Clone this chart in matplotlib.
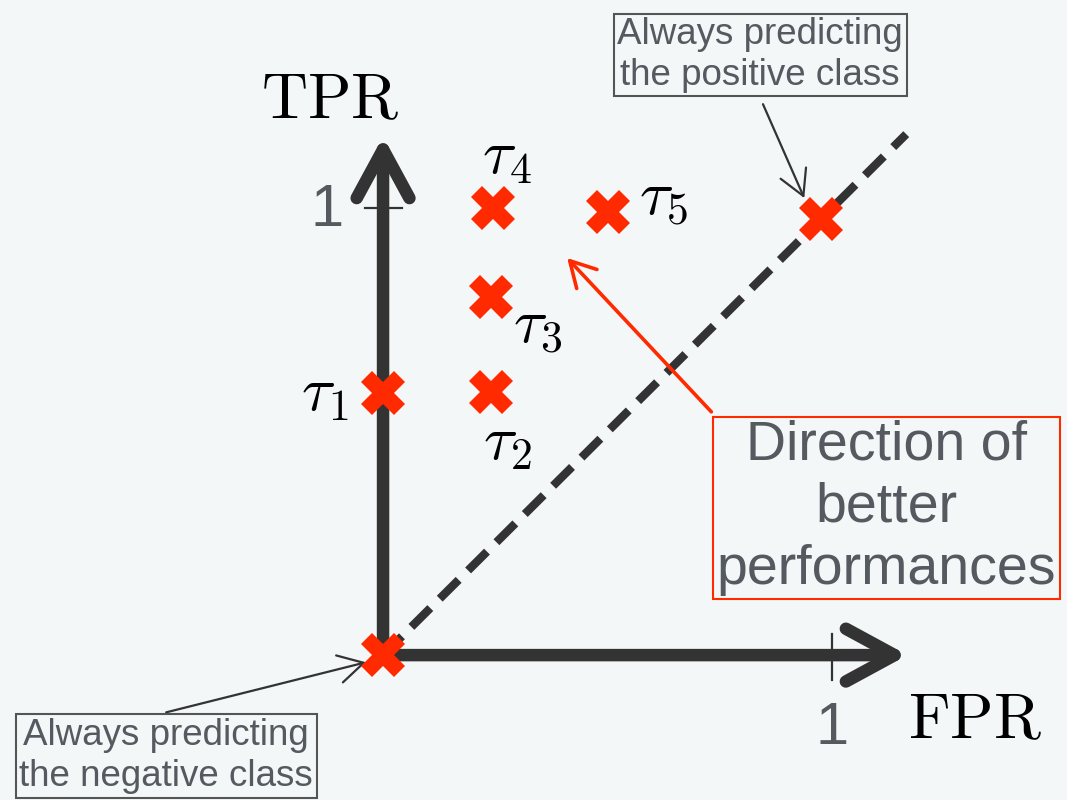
import matplotlib
matplotlib.use("Agg")
import matplotlib.pyplot as plt
from matplotlib.patches import FancyArrowPatch, ArrowStyle

plt.rcParams['mathtext.fontset'] = 'cm'

# ---- data ----
point_labels = [r'$\tau_1$', r'$\tau_2$', r'$\tau_3$', r'$\tau_4$', r'$\tau_5$']
fpr = [0.0, 0.24, 0.24, 0.245, 0.5]
tpr = [0.586, 0.588, 0.80, 1.0, 0.99]
label_offsets = [(-42, 0), (12, -36), (34, -20), (10, 37), (40, 11)]
extreme_fpr = [0.0, 0.975]
extreme_tpr = [0.0, 0.975]
tick_value = 1
diag_end = 1.165

BG = '#f4f7f8'
DARK = '#333333'
RED = '#ff2a00'
GREY_TXT = '#555a61'

fig = plt.figure(figsize=(10.67, 8.0), dpi=100, facecolor=BG)
ax = fig.add_axes([0, 0, 1, 1])
ax.set_facecolor(BG)
ax.set_xlim(-0.853, 1.523)
ax.set_ylim(-0.324, 1.465)
ax.axis('off')

# diagonal (random classifier)
ax.plot([0, diag_end], [0, diag_end], color=DARK, lw=6, dashes=(3.2, 1.6), zorder=2)

# axes arrows
style = ArrowStyle('->', head_length=1.75, head_width=0.95)
for end in [(0, 1.16), (1.168, 0)]:
    a = FancyArrowPatch((0, 0), end, arrowstyle=style, mutation_scale=20,
                        lw=9, color=DARK, shrinkA=0, shrinkB=0,
                        capstyle='round', joinstyle='round', zorder=3)
    ax.add_patch(a)

# ticks
ax.plot([-0.04, 0.042], [tick_value, tick_value], color=DARK, lw=1.6, zorder=3)
ax.plot([tick_value, tick_value], [-0.055, 0.047], color=DARK, lw=1.6, zorder=3)
ax.text(-0.124, tick_value - 0.005, '1', fontsize=43, color=GREY_TXT,
        family='Liberation Sans', ha='center', va='center')
ax.text(tick_value, -0.165, '1', fontsize=43, color=GREY_TXT,
        family='Liberation Sans', ha='center', va='center')

# axis labels
ax.text(-0.118, 1.242, r'$\mathrm{TPR}$', fontsize=46, ha='center', va='center')
ax.text(1.318, -0.145, r'$\mathrm{FPR}$', fontsize=46, ha='center', va='center')

# points
ax.plot(fpr, tpr, linestyle='none', marker='X', markersize=31, color=RED,
        markeredgewidth=0, zorder=5)
ax.plot(extreme_fpr, extreme_tpr, linestyle='none', marker='X', markersize=31,
        color=RED, markeredgewidth=0, zorder=5)
for lab, x, y, off in zip(point_labels, fpr, tpr, label_offsets):
    ax.annotate(lab, (x, y), xytext=off, textcoords='offset points',
                fontsize=45, ha='center', va='center')

# annotation boxes
box_kw = dict(boxstyle='square,pad=0.1', facecolor=BG, edgecolor='#555555', lw=1.5)
ax.text(0.84, 1.342, 'Always predicting\nthe positive class', fontsize=26.5,
        family='Liberation Sans', color=GREY_TXT, ha='center', va='center',
        linespacing=1.2, bbox=box_kw, zorder=6)
ax.text(-0.483, -0.14, 'Always predicting\nthe negative class', fontsize=26.5,
        family='Liberation Sans', color=GREY_TXT, ha='center', va='top',
        linespacing=1.25, bbox=box_kw, zorder=6)

red_box = dict(boxstyle='square,pad=0.06', facecolor=BG, edgecolor=RED, lw=1.5)
ax.text(1.121, 0.329, 'Direction of\nbetter\nperformances', fontsize=40,
        family='Liberation Sans', color=GREY_TXT, ha='center', va='center',
        linespacing=1.25, bbox=red_box, zorder=6)

# annotation arrows
thin = ArrowStyle('->', head_length=0.9, head_width=0.5)
for start, end, col, lw in [((0.846, 1.232), (0.938, 1.022), DARK, 1.6),
                            ((-0.483, -0.128), (-0.038, -0.016), DARK, 1.6),
                            ((0.731, 0.544), (0.41, 0.888), RED, 2.6)]:
    a = FancyArrowPatch(start, end, arrowstyle=thin, mutation_scale=20, lw=lw,
                        color=col, shrinkA=0, shrinkB=0, capstyle='round',
                        joinstyle='round', zorder=4)
    ax.add_patch(a)

fig.savefig('out.png', dpi=100, facecolor=BG)
